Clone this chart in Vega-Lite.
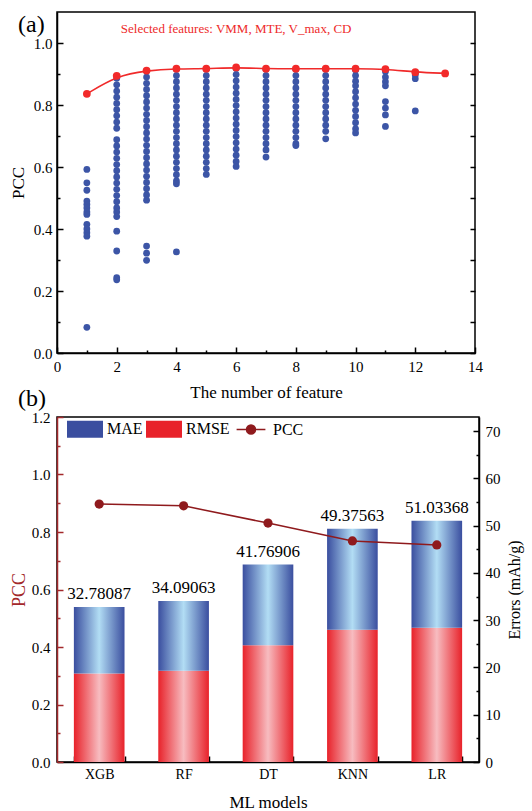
{
  "$schema": "https://vega.github.io/schema/vega-lite/v6.json",
  "padding": {"left": 8, "top": 11, "right": 9, "bottom": 3},
  "background": "white",
  "config": {
    "font": "Liberation Serif",
    "view": {"stroke": "#000", "strokeWidth": 1.5},
    "axis": {"grid": false, "domainColor": "#000", "domainWidth": 1.5, "tickColor": "#000", "tickWidth": 1.5, "labelColor": "#000", "titleColor": "#000", "labelFont": "Liberation Serif", "titleFont": "Liberation Serif", "labelFontSize": 15, "titleFontSize": 17, "titleFontWeight": "normal"},
    "title": {"font": "Liberation Serif", "fontWeight": "normal", "fontSize": 24, "color": "#000"}
  },
  "resolve": {"scale": {"color": "independent"}, "legend": {"color": "independent"}},
  "datasets": {
    "scatter": [
      {"n":1,"p":0.592},{"n":1,"p":0.549},{"n":1,"p":0.525},{"n":1,"p":0.49},{"n":1,"p":0.479},{"n":1,"p":0.468},{"n":1,"p":0.455},{"n":1,"p":0.447},{"n":1,"p":0.415},{"n":1,"p":0.4},{"n":1,"p":0.388},{"n":1,"p":0.377},{"n":1,"p":0.083},
      {"n":2,"p":0.886},{"n":2,"p":0.865},{"n":2,"p":0.845},{"n":2,"p":0.825},{"n":2,"p":0.805},{"n":2,"p":0.785},{"n":2,"p":0.765},{"n":2,"p":0.745},{"n":2,"p":0.725},{"n":2,"p":0.688},{"n":2,"p":0.668},{"n":2,"p":0.648},{"n":2,"p":0.628},{"n":2,"p":0.608},{"n":2,"p":0.588},{"n":2,"p":0.568},{"n":2,"p":0.548},{"n":2,"p":0.528},{"n":2,"p":0.508},{"n":2,"p":0.488},{"n":2,"p":0.468},{"n":2,"p":0.455},{"n":2,"p":0.44},{"n":2,"p":0.393},{"n":2,"p":0.329},{"n":2,"p":0.243},{"n":2,"p":0.236},
      {"n":3,"p":0.91},{"n":3,"p":0.89},{"n":3,"p":0.87},{"n":3,"p":0.85},{"n":3,"p":0.83},{"n":3,"p":0.81},{"n":3,"p":0.79},{"n":3,"p":0.77},{"n":3,"p":0.75},{"n":3,"p":0.73},{"n":3,"p":0.71},{"n":3,"p":0.69},{"n":3,"p":0.67},{"n":3,"p":0.65},{"n":3,"p":0.63},{"n":3,"p":0.61},{"n":3,"p":0.59},{"n":3,"p":0.57},{"n":3,"p":0.55},{"n":3,"p":0.53},{"n":3,"p":0.51},{"n":3,"p":0.493},{"n":3,"p":0.345},{"n":3,"p":0.322},{"n":3,"p":0.299},
      {"n":4,"p":0.915},{"n":4,"p":0.895},{"n":4,"p":0.875},{"n":4,"p":0.855},{"n":4,"p":0.835},{"n":4,"p":0.815},{"n":4,"p":0.795},{"n":4,"p":0.775},{"n":4,"p":0.755},{"n":4,"p":0.735},{"n":4,"p":0.715},{"n":4,"p":0.695},{"n":4,"p":0.675},{"n":4,"p":0.655},{"n":4,"p":0.635},{"n":4,"p":0.615},{"n":4,"p":0.595},{"n":4,"p":0.575},{"n":4,"p":0.555},{"n":4,"p":0.546},{"n":4,"p":0.326},
      {"n":5,"p":0.915},{"n":5,"p":0.895},{"n":5,"p":0.875},{"n":5,"p":0.855},{"n":5,"p":0.835},{"n":5,"p":0.815},{"n":5,"p":0.795},{"n":5,"p":0.775},{"n":5,"p":0.755},{"n":5,"p":0.735},{"n":5,"p":0.715},{"n":5,"p":0.695},{"n":5,"p":0.675},{"n":5,"p":0.655},{"n":5,"p":0.635},{"n":5,"p":0.615},{"n":5,"p":0.595},{"n":5,"p":0.576},
      {"n":6,"p":0.918},{"n":6,"p":0.898},{"n":6,"p":0.878},{"n":6,"p":0.858},{"n":6,"p":0.838},{"n":6,"p":0.818},{"n":6,"p":0.798},{"n":6,"p":0.778},{"n":6,"p":0.758},{"n":6,"p":0.738},{"n":6,"p":0.718},{"n":6,"p":0.698},{"n":6,"p":0.678},{"n":6,"p":0.658},{"n":6,"p":0.638},{"n":6,"p":0.618},{"n":6,"p":0.602},
      {"n":7,"p":0.915},{"n":7,"p":0.895},{"n":7,"p":0.875},{"n":7,"p":0.855},{"n":7,"p":0.835},{"n":7,"p":0.815},{"n":7,"p":0.795},{"n":7,"p":0.775},{"n":7,"p":0.755},{"n":7,"p":0.735},{"n":7,"p":0.715},{"n":7,"p":0.695},{"n":7,"p":0.675},{"n":7,"p":0.655},{"n":7,"p":0.632},
      {"n":8,"p":0.915},{"n":8,"p":0.895},{"n":8,"p":0.875},{"n":8,"p":0.855},{"n":8,"p":0.835},{"n":8,"p":0.815},{"n":8,"p":0.795},{"n":8,"p":0.775},{"n":8,"p":0.755},{"n":8,"p":0.735},{"n":8,"p":0.715},{"n":8,"p":0.695},{"n":8,"p":0.675},{"n":8,"p":0.669},
      {"n":9,"p":0.915},{"n":9,"p":0.895},{"n":9,"p":0.875},{"n":9,"p":0.855},{"n":9,"p":0.835},{"n":9,"p":0.815},{"n":9,"p":0.795},{"n":9,"p":0.775},{"n":9,"p":0.755},{"n":9,"p":0.735},{"n":9,"p":0.715},{"n":9,"p":0.691},
      {"n":10,"p":0.913},{"n":10,"p":0.895},{"n":10,"p":0.877},{"n":10,"p":0.862},{"n":10,"p":0.843},{"n":10,"p":0.823},{"n":10,"p":0.803},{"n":10,"p":0.783},{"n":10,"p":0.763},{"n":10,"p":0.743},{"n":10,"p":0.723},{"n":10,"p":0.71},
      {"n":11,"p":0.908},{"n":11,"p":0.89},{"n":11,"p":0.875},{"n":11,"p":0.862},{"n":11,"p":0.811},{"n":11,"p":0.79},{"n":11,"p":0.768},{"n":11,"p":0.731},
      {"n":12,"p":0.897},{"n":12,"p":0.885},{"n":12,"p":0.781}
    ],
    "best": [
      {"n":1,"p":0.836},{"n":2,"p":0.894},{"n":3,"p":0.911},{"n":4,"p":0.917},{"n":5,"p":0.917},{"n":6,"p":0.921},{"n":7,"p":0.917},{"n":8,"p":0.917},{"n":9,"p":0.917},{"n":10,"p":0.917},{"n":11,"p":0.916},{"n":12,"p":0.906},{"n":13,"p":0.902}
    ],
    "errors": [
      {"model":"XGB","metric":"RMSE","value":18.7},{"model":"XGB","metric":"MAE","value":14.08087},
      {"model":"RF","metric":"RMSE","value":19.3},{"model":"RF","metric":"MAE","value":14.79063},
      {"model":"DT","metric":"RMSE","value":24.7},{"model":"DT","metric":"MAE","value":17.06906},
      {"model":"KNN","metric":"RMSE","value":28.0},{"model":"KNN","metric":"MAE","value":21.37563},
      {"model":"LR","metric":"RMSE","value":28.4},{"model":"LR","metric":"MAE","value":22.63368}
    ],
    "pcc": [
      {"model":"XGB","PCC":0.897},{"model":"RF","PCC":0.891},{"model":"DT","PCC":0.831},{"model":"KNN","PCC":0.769},{"model":"LR","PCC":0.755}
    ]
  },
  "spacing": -15,
  "vconcat": [
    {
      "width": 418,
      "height": 341,
      "title": {"text": "(a)", "anchor": "start", "frame": "group", "dx": -39, "dy": 25, "offset": 0},
      "resolve": {"axis": {"x": "independent", "y": "independent"}},
      "layer": [
        {
          "data": {"name": "scatter"},
          "mark": {"type": "circle", "size": 46, "opacity": 1, "color": "#3c55a6"},
          "encoding": {
            "x": {"field": "n", "type": "quantitative", "scale": {"domain": [0, 14], "nice": false},
                  "axis": {"orient": "bottom", "values": [0,2,4,6,8,10,12,14], "tickSize": -6, "labelPadding": 12, "title": "The number of feature", "titlePadding": 10, "labelFlush": false}},
            "y": {"field": "p", "type": "quantitative", "scale": {"domain": [0, 1.1], "nice": false},
                  "axis": {"orient": "left", "values": [0,0.2,0.4,0.6,0.8,1.0], "format": ".1f", "tickSize": -6, "labelPadding": 11, "title": "PCC", "titlePadding": 6, "labelFlush": false}}
          }
        },
        {
          "data": {"name": "best"},
          "mark": {"type": "line", "interpolate": "basis", "color": "#f02a2a", "strokeWidth": 1.6},
          "encoding": {
            "x": {"field": "n", "type": "quantitative", "axis": {"orient": "bottom", "values": [1,3,5,7,9,11,13], "tickSize": -3, "labels": false, "domain": false, "title": null}},
            "y": {"field": "p", "type": "quantitative", "axis": {"orient": "left", "values": [0.1,0.3,0.5,0.7,0.9], "tickSize": -3, "labels": false, "domain": false, "title": null}}
          }
        },
        {
          "data": {"name": "best"},
          "mark": {"type": "circle", "size": 60, "opacity": 1, "color": "#f22a2a"},
          "encoding": {
            "x": {"field": "n", "type": "quantitative", "axis": null},
            "y": {"field": "p", "type": "quantitative", "axis": {"orient": "right", "values": [0,0.1,0.2,0.3,0.4,0.5,0.6,0.7,0.8,0.9,1.0], "tickSize": -5, "labels": false, "domain": false, "title": null}}
          }
        },
        {
          "data": {"values": [{"label": "Selected features: VMM, MTE, V_max, CD"}]},
          "mark": {"type": "text", "color": "#ee2a2a", "fontSize": 13, "align": "center", "baseline": "middle"},
          "encoding": {
            "x": {"datum": 6.0, "type": "quantitative", "axis": null},
            "y": {"datum": 1.045, "type": "quantitative", "axis": null},
            "text": {"field": "label"}
          }
        }
      ]
    },
    {
      "width": 422,
      "height": 345,
      "title": {"text": "(b)", "anchor": "start", "frame": "group", "dx": -39, "offset": -1},
      "resolve": {"scale": {"y": "independent"}, "axis": {"y": "independent"}},
      "layer": [
        {
          "data": {"name": "errors"},
          "mark": {"type": "bar"},
          "encoding": {
            "x": {"field": "model", "type": "nominal", "sort": ["XGB","RF","DT","KNN","LR"], "scale": {"paddingInner": 0.4, "paddingOuter": 0.2},
                  "axis": {"orient": "bottom", "labelAngle": 0, "tickBand": "extent", "tickSize": -6, "labelPadding": 11, "labelFontSize": 14, "title": "ML models", "titlePadding": 13}},
            "y": {"field": "value", "type": "quantitative", "stack": "zero", "scale": {"domain": [0, 73], "nice": false},
                  "axis": {"orient": "right", "values": [0,10,20,30,40,50,60,70], "tickSize": -6, "labelPadding": 12, "title": "Errors (mAh/g)", "titleFontSize": 16, "titleAngle": -90, "titleBaseline": "top", "titlePadding": 6, "labelFlush": false}},
            "fill": {"condition": {"test": "datum.metric === 'MAE'", "value": {"gradient": "linear", "x1": 0, "y1": 0, "x2": 1, "y2": 0, "stops": [{"offset": 0, "color": "#3a4e9f"}, {"offset": 0.5, "color": "#b2ddf4"}, {"offset": 1, "color": "#3a4e9f"}]}},
                     "value": {"gradient": "linear", "x1": 0, "y1": 0, "x2": 1, "y2": 0, "stops": [{"offset": 0, "color": "#e8222a"}, {"offset": 0.5, "color": "#f7bcc0"}, {"offset": 1, "color": "#e8222a"}]}},
            "order": {"field": "metric", "sort": "descending"}
          }
        },
        {
          "data": {"name": "errors"},
          "mark": {"type": "bar", "opacity": 0},
          "encoding": {
            "x": {"field": "model", "type": "nominal", "sort": ["XGB","RF","DT","KNN","LR"]},
            "y": {"field": "value", "type": "quantitative", "stack": "zero", "scale": {"domain": [0, 73], "nice": false}, "axis": null},
            "color": {"field": "metric", "type": "nominal",
              "scale": {"domain": ["MAE", "RMSE", "PCC"], "range": ["#3a4e9f", "#e8222a", "#8f1a1d"]},
              "legend": {"title": null, "orient": "none", "legendX": 20, "legendY": 4, "direction": "horizontal", "padding": 0, "symbolSize": 1296, "labelFontSize": 16, "labelFont": "Liberation Serif", "labelColor": "#000", "labelOffset": 14, "columnPadding": 3,
                "encode": {"symbols": {"update": {
                  "shape": {"signal": "datum.value === 'PCC' ? 'M-0.8,0L0.8,0M0.25,0A0.25,0.25,0,1,1,-0.25,0A0.25,0.25,0,1,1,0.25,0' : 'M-1,-0.47L1,-0.47L1,0.47L-1,0.47Z'"},
                  "fill": [
                    {"test": "datum.value === 'MAE'", "value": {"gradient": "linear", "x1": 0, "y1": 0, "x2": 1, "y2": 0, "stops": [{"offset": 0, "color": "#3a4e9f"}, {"offset": 0.5, "color": "#b2ddf4"}, {"offset": 1, "color": "#3a4e9f"}]}},
                    {"test": "datum.value === 'RMSE'", "value": {"gradient": "linear", "x1": 0, "y1": 0, "x2": 1, "y2": 0, "stops": [{"offset": 0, "color": "#e8222a"}, {"offset": 0.5, "color": "#f7bcc0"}, {"offset": 1, "color": "#e8222a"}]}},
                    {"value": "#8f1a1d"}
                  ],
                  "stroke": {"signal": "datum.value === 'PCC' ? '#8f1a1d' : 'transparent'"},
                  "strokeWidth": {"signal": "datum.value === 'PCC' ? 1.5 : 0"},
                  "opacity": {"value": 1},
                  "fillOpacity": {"value": 1},
                  "strokeOpacity": {"value": 1}
                }}}}
            },
            "order": {"field": "metric", "sort": "descending"}
          }
        },
        {
          "data": {"name": "errors"},
          "mark": {"type": "text", "fontSize": 17, "baseline": "bottom", "dy": -4, "color": "#000"},
          "encoding": {
            "x": {"field": "model", "type": "nominal", "sort": ["XGB","RF","DT","KNN","LR"]},
            "y": {"aggregate": "sum", "field": "value", "type": "quantitative", "scale": {"domain": [0, 73], "nice": false},
                  "axis": {"orient": "right", "values": [5,15,25,35,45,55,65], "tickSize": -3, "labels": false, "domain": false, "title": null}},
            "text": {"aggregate": "sum", "field": "value", "type": "quantitative", "format": ".5f"}
          }
        },
        {
          "data": {"name": "pcc"},
          "mark": {"type": "line", "strokeWidth": 1.5},
          "encoding": {
            "x": {"field": "model", "type": "nominal", "sort": ["XGB","RF","DT","KNN","LR"]},
            "y": {"field": "PCC", "type": "quantitative", "scale": {"domain": [0, 1.2], "nice": false},
                  "axis": {"orient": "left", "values": [0,0.2,0.4,0.6,0.8,1.0,1.2], "format": ".1f", "tickSize": -6, "labelPadding": 13, "domainColor": "#a3282b", "tickColor": "#a3282b", "title": "PCC", "titleColor": "#a3282b", "titleFontSize": 18, "titlePadding": 3, "labelFlush": false}},
            "color": {"datum": "PCC", "type": "nominal"}
          }
        },
        {
          "data": {"name": "pcc"},
          "mark": {"type": "circle", "size": 85, "opacity": 1},
          "encoding": {
            "x": {"field": "model", "type": "nominal", "sort": ["XGB","RF","DT","KNN","LR"]},
            "y": {"field": "PCC", "type": "quantitative", "scale": {"domain": [0, 1.2], "nice": false},
                  "axis": {"orient": "left", "values": [0.1,0.3,0.5,0.7,0.9,1.1], "tickSize": -3, "labels": false, "domain": false, "tickColor": "#a3282b", "title": null}},
            "color": {"datum": "PCC", "type": "nominal"}
          }
        }
      ]
    }
  ]
}
